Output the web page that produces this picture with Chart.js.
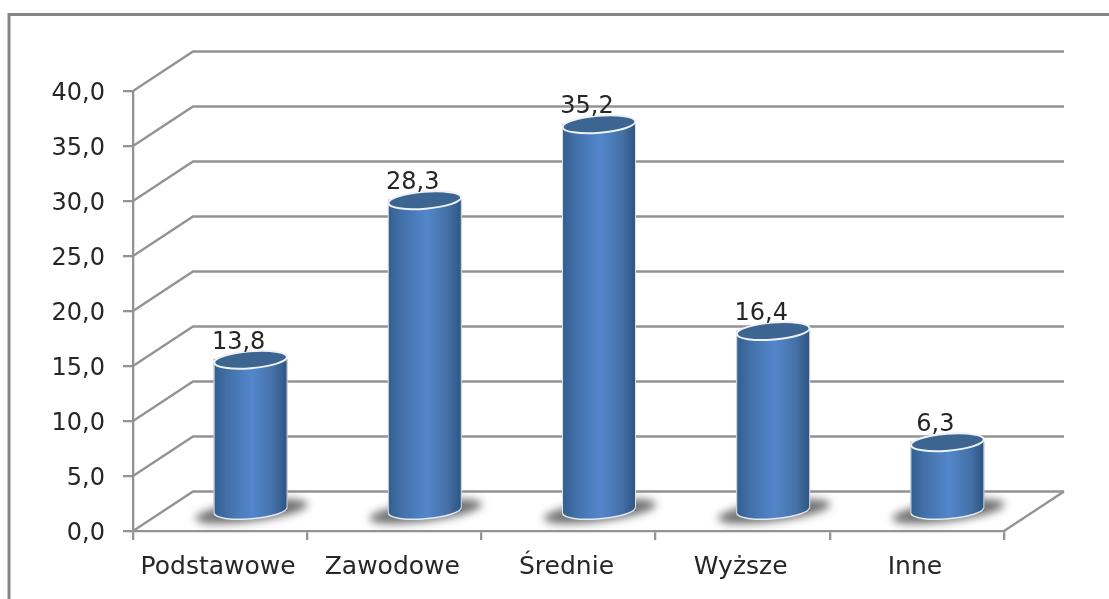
<!DOCTYPE html>
<html><head><meta charset="utf-8">
<style>html,body{margin:0;padding:0;background:#fff;overflow:hidden}
#wrap{position:absolute;left:0;top:0;width:1109px;height:599px}</style>
<script src="https://cdn.jsdelivr.net/npm/chart.js@4"></script></head>
<body><div id="wrap"><canvas id="c" width="1109" height="599"></canvas></div>
<script>
const categories = ['Podstawowe','Zawodowe','Średnie','Wyższe','Inne'];
const values = [13.8,28.3,35.2,16.4,6.3];
const fmt = v => v.toFixed(1).replace('.',',');
const LINE = '#939393', TEXT = '#262626';
const DX = 60, DY = -39.5;          // depth of the 3D box
const BX = 30.5, BY = -19.5;        // bars stand in the middle of the depth
const BARW = 73, RY = 8.5, TILT = -0.08;

const canvasEl = document.getElementById('c');
canvasEl.getContext('2d').letterSpacing = '1px';

function cylGrad(ctx, cx){
  const g = ctx.createLinearGradient(cx-BARW/2,0,cx+BARW/2,0);
  g.addColorStop(0,'#33608f');
  g.addColorStop(0.18,'#4270a8');
  g.addColorStop(0.52,'#5387cb');
  g.addColorStop(0.82,'#4470a6');
  g.addColorStop(1,'#2e5480');
  return g;
}
const box3d = {
  id:'box3d',
  beforeDraw(chart){
    const c = chart.ctx;
    c.save();
    c.fillStyle='#fff'; c.fillRect(0,0,chart.width,chart.height);
    c.strokeStyle = '#858585'; c.lineWidth = 3;
    c.beginPath(); c.moveTo(9,599); c.lineTo(9,14.5); c.lineTo(1109,14.5); c.stroke();
    c.restore();
  },
  beforeDatasetsDraw(chart){
    const c = chart.ctx, {x,y} = chart.scales, L = x.left, R = x.right;
    c.save();
    c.strokeStyle = LINE; c.lineWidth = 2.3;
    y.ticks.forEach(t=>{
      const py = y.getPixelForValue(t.value);
      c.beginPath(); c.moveTo(L,py); c.lineTo(L+DX,py+DY); c.lineTo(R+DX,py+DY); c.stroke();
    });
    const p0 = y.getPixelForValue(0);
    c.beginPath(); c.moveTo(R,p0); c.lineTo(R+DX,p0+DY); c.stroke();
    c.restore();
  },
  beforeDatasetDraw(chart,args){
    const c = chart.ctx;
    c.save();
    c.translate(BX,BY);
    args.meta.data.forEach(b=>{
      c.save();
      c.filter='blur(4px)';
      c.fillStyle='#707070';
      c.beginPath();
      c.ellipse(b.x+1,b.base+1,BARW/2+20,10,-0.13,0,Math.PI*2);
      c.fill();
      c.restore();
    });
  },
  afterDatasetDraw(chart,args){
    const c = chart.ctx;
    args.meta.data.forEach(b=>{
      const rx = BARW/2;
      c.beginPath();
      c.moveTo(b.x-rx,b.base-10);
      c.lineTo(b.x+rx,b.base-10);
      c.ellipse(b.x,b.base,rx,RY,TILT,0,Math.PI);
      c.closePath();
      c.fillStyle = cylGrad(c,b.x); c.fill();
      c.beginPath();
      c.ellipse(b.x,b.base,rx,RY,TILT,0,Math.PI);
      c.strokeStyle='#e4e9ef'; c.lineWidth=1.5; c.stroke();
      c.beginPath(); c.moveTo(b.x-rx,b.y); c.lineTo(b.x-rx,b.base+3);
      c.moveTo(b.x+rx,b.y); c.lineTo(b.x+rx,b.base-3);
      c.strokeStyle='#dfe4ea'; c.lineWidth=1; c.stroke();
      c.beginPath();
      c.ellipse(b.x,b.y,rx,RY,TILT,0,Math.PI*2);
      c.fillStyle='#3c6592'; c.fill();
      c.strokeStyle='#eef2f6'; c.lineWidth=2; c.stroke();
    });
    c.restore();
  },
  afterDraw(chart){
    const c = chart.ctx;
    c.save();
    c.font='24px "DejaVu Sans"'; c.fillStyle=TEXT; c.textAlign='center'; c.textBaseline='alphabetic';
    chart.getDatasetMeta(0).data.forEach((b,i)=>{
      c.fillText(fmt(values[i]), b.x+BX-12, b.y+BY-11);
    });
    c.restore();
  }
};
new Chart(canvasEl,{
  type:'bar',
  plugins:[box3d],
  data:{labels:categories,datasets:[{
    data:values,
    barThickness:BARW,
    borderWidth:0,
    clip:false,
    backgroundColor(ctx){
      const s = ctx.chart.scales.x;
      const px = s && ctx.dataIndex!==undefined ? s.getPixelForValue(ctx.dataIndex) : NaN;
      return Number.isFinite(px) ? cylGrad(ctx.chart.ctx, px) : '#4f81bd';
    }
  }]},
  options:{
    responsive:false,animation:false,
    layout:{padding:{left:0,right:105,top:91,bottom:0}},
    plugins:{legend:{display:false},title:{display:false},tooltip:{enabled:false}},
    scales:{
      x:{
        afterFit(s){s.height=68;},
        grid:{display:true,drawOnChartArea:false,drawTicks:true,tickLength:9,color:LINE,lineWidth:2.3},
        border:{display:true,color:LINE,width:2.3},
        ticks:{color:TEXT,font:{family:'"DejaVu Sans"',size:25},padding:12,labelOffset:-2,maxRotation:0,minRotation:0,autoSkip:false}
      },
      y:{
        min:0,max:40,
        afterFit(s){s.width=133;},
        grid:{display:true,drawOnChartArea:false,drawTicks:true,tickLength:10,color:LINE,lineWidth:2.3},
        border:{display:true,color:LINE,width:2.3},
        ticks:{stepSize:5,color:TEXT,font:{family:'"DejaVu Sans"',size:24},padding:18,labelOffset:3,callback:v=>fmt(v)}
      }
    }
  }
});
</script></body></html>
